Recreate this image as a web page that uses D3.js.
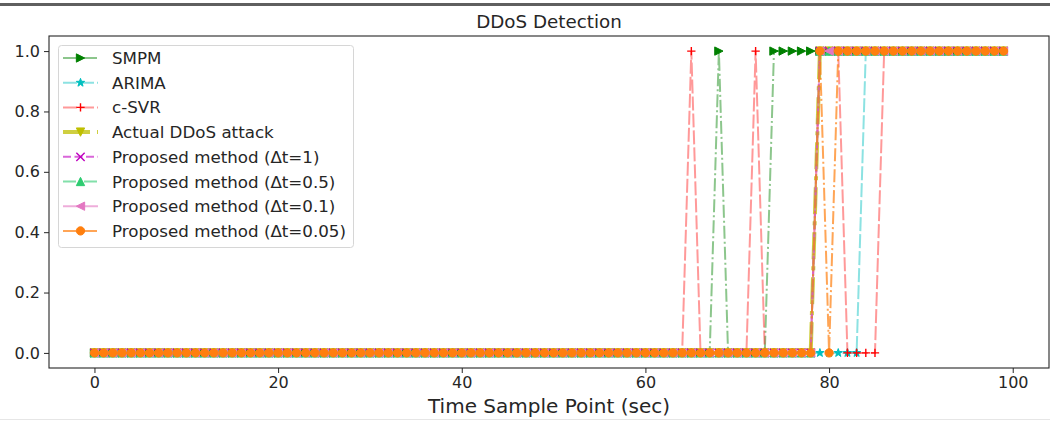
<!DOCTYPE html>
<html>
<head>
<meta charset="utf-8">
<script src="https://cdn.jsdelivr.net/npm/d3@7"></script>
<style>
  body { margin: 0; background: #fff; }
  svg { display: block; font-family: "DejaVu Sans", sans-serif; }
</style>
</head>
<body>
<div id="chart"></div>
<script>
// time sample points 0..99
var samples = [
  0,1,2,3,4,5,6,7,8,9,10,11,12,13,14,15,16,17,18,19,
  20,21,22,23,24,25,26,27,28,29,30,31,32,33,34,35,36,37,38,39,
  40,41,42,43,44,45,46,47,48,49,50,51,52,53,54,55,56,57,58,59,
  60,61,62,63,64,65,66,67,68,69,70,71,72,73,74,75,76,77,78,79,
  80,81,82,83,84,85,86,87,88,89,90,91,92,93,94,95,96,97,98,99
]

var smpm = [
  0,0,0,0,0,0,0,0,0,0,0,0,0,0,0,0,0,0,0,0,
  0,0,0,0,0,0,0,0,0,0,0,0,0,0,0,0,0,0,0,0,
  0,0,0,0,0,0,0,0,0,0,0,0,0,0,0,0,0,0,0,0,
  0,0,0,0,0,0,0,0,1,0,0,0,0,0,1,1,1,1,1,1,
  1,1,1,1,1,1,1,1,1,1,1,1,1,1,1,1,1,1,1,1
]
var arima = [
  0,0,0,0,0,0,0,0,0,0,0,0,0,0,0,0,0,0,0,0,
  0,0,0,0,0,0,0,0,0,0,0,0,0,0,0,0,0,0,0,0,
  0,0,0,0,0,0,0,0,0,0,0,0,0,0,0,0,0,0,0,0,
  0,0,0,0,0,0,0,0,0,0,0,0,0,0,0,0,0,0,0,0,
  0,0,0,0,1,1,1,1,1,1,1,1,1,1,1,1,1,1,1,1
]
var csvr = [
  0,0,0,0,0,0,0,0,0,0,0,0,0,0,0,0,0,0,0,0,
  0,0,0,0,0,0,0,0,0,0,0,0,0,0,0,0,0,0,0,0,
  0,0,0,0,0,0,0,0,0,0,0,0,0,0,0,0,0,0,0,0,
  0,0,0,0,0,1,0,0,0,0,0,0,1,0,0,0,0,0,0,1,
  1,1,0,0,0,0,1,1,1,1,1,1,1,1,1,1,1,1,1,1
]
var actual = [
  0,0,0,0,0,0,0,0,0,0,0,0,0,0,0,0,0,0,0,0,
  0,0,0,0,0,0,0,0,0,0,0,0,0,0,0,0,0,0,0,0,
  0,0,0,0,0,0,0,0,0,0,0,0,0,0,0,0,0,0,0,0,
  0,0,0,0,0,0,0,0,0,0,0,0,0,0,0,0,0,0,0,1,
  1,1,1,1,1,1,1,1,1,1,1,1,1,1,1,1,1,1,1,1
]
var proposed1 = [
  0,0,0,0,0,0,0,0,0,0,0,0,0,0,0,0,0,0,0,0,
  0,0,0,0,0,0,0,0,0,0,0,0,0,0,0,0,0,0,0,0,
  0,0,0,0,0,0,0,0,0,0,0,0,0,0,0,0,0,0,0,0,
  0,0,0,0,0,0,0,0,0,0,0,0,0,0,0,0,0,0,0,1,
  1,1,1,1,1,1,1,1,1,1,1,1,1,1,1,1,1,1,1,1
]
var proposed05 = [
  0,0,0,0,0,0,0,0,0,0,0,0,0,0,0,0,0,0,0,0,
  0,0,0,0,0,0,0,0,0,0,0,0,0,0,0,0,0,0,0,0,
  0,0,0,0,0,0,0,0,0,0,0,0,0,0,0,0,0,0,0,0,
  0,0,0,0,0,0,0,0,0,0,0,0,0,0,0,0,0,0,0,1,
  1,1,1,1,1,1,1,1,1,1,1,1,1,1,1,1,1,1,1,1
]
var proposed01 = [
  0,0,0,0,0,0,0,0,0,0,0,0,0,0,0,0,0,0,0,0,
  0,0,0,0,0,0,0,0,0,0,0,0,0,0,0,0,0,0,0,0,
  0,0,0,0,0,0,0,0,0,0,0,0,0,0,0,0,0,0,0,0,
  0,0,0,0,0,0,0,0,0,0,0,0,0,0,0,0,0,0,0,1,
  1,1,1,1,1,1,1,1,1,1,1,1,1,1,1,1,1,1,1,1
]
var proposed005 = [
  0,0,0,0,0,0,0,0,0,0,0,0,0,0,0,0,0,0,0,0,
  0,0,0,0,0,0,0,0,0,0,0,0,0,0,0,0,0,0,0,0,
  0,0,0,0,0,0,0,0,0,0,0,0,0,0,0,0,0,0,0,0,
  0,0,0,0,0,0,0,0,0,0,0,0,0,0,0,0,0,0,0,1,
  0,1,1,1,1,1,1,1,1,1,1,1,1,1,1,1,1,1,1,1
]

var xTicks = [0, 20, 40, 60, 80, 100]
var yTicks = [0.0, 0.2, 0.4, 0.6, 0.8, 1.0]

// series table built from the arrays above (drawing order = legend order)
var series = [
  {name: "SMPM", values: smpm, color: "#008000", marker: "right", dash: "13,3,2,3", lw: 2, alpha: 0.45},
  {name: "ARIMA", values: arima, color: "#00bfbf", marker: "star", dash: "14,3", lw: 2, alpha: 0.45},
  {name: "c-SVR", values: csvr, color: "#ff0000", marker: "plus", dash: "14,3", lw: 2, alpha: 0.4},
  {name: "Actual DDoS attack", values: actual, color: "#bfbf00", marker: "down", dash: "27,7,4,7", lw: 4, alpha: 0.75},
  {name: "Proposed method (\u0394t=1)", values: proposed1, color: "#bf00bf", marker: "x", dash: "8,3.5", lw: 2, alpha: 0.6},
  {name: "Proposed method (\u0394t=0.5)", values: proposed05, color: "#2ecc71", marker: "up", dash: "13,3,2,3", lw: 2, alpha: 0.6},
  {name: "Proposed method (\u0394t=0.1)", values: proposed01, color: "#e377c2", marker: "left", dash: null, lw: 2, alpha: 0.6},
  {name: "Proposed method (\u0394t=0.05)", values: proposed005, color: "#ff7f0e", marker: "circle", dash: "13,3,2,3", lw: 2, alpha: 0.7}
]

var width = 1050, height = 421
var dimensions = {left: 49, right: 1049, top: 36, bottom: 368}
var msize = 8.3

var svg = d3.select("#chart").append("svg")
  .attr("width", width)
  .attr("height", height)

// frame lines of the screenshot
svg.append("rect").attr("x", 0).attr("y", 3).attr("width", width).attr("height", 3).attr("fill", "#5f5f5f")
svg.append("rect").attr("x", 0).attr("y", 419).attr("width", width).attr("height", 1).attr("fill", "#e6e6e6")

var xScale = d3.scaleLinear()
  .domain([-4.95, 103.95])
  .range([dimensions.left, dimensions.right])

var yScale = d3.scaleLinear()
  .domain([-0.05, 1.05])
  .range([dimensions.bottom, dimensions.top])

function markerPath(type, s) {
  var r = s / 2
  if (type == "up") return `M0,${-r}L${-r},${r}L${r},${r}Z`
  if (type == "down") return `M0,${r}L${-r},${-r}L${r},${-r}Z`
  if (type == "right") return `M${r},0L${-r},${-r}L${-r},${r}Z`
  if (type == "left") return `M${-r},0L${r},${-r}L${r},${r}Z`
  if (type == "plus") return `M${-r},0H${r}M0,${-r}V${r}`
  if (type == "x") return `M${-r},${-r}L${r},${r}M${-r},${r}L${r},${-r}`
  if (type == "circle") return d3.arc()({innerRadius: 0, outerRadius: r, startAngle: 0, endAngle: 2 * Math.PI})
  if (type == "star") {
    var pts = []
    for (var i = 0; i < 10; i++) {
      var rad = i % 2 == 0 ? r * 1.05 : r * 0.42
      var a = Math.PI * i / 5
      pts.push([rad * Math.sin(a), -rad * Math.cos(a)])
    }
    return "M" + pts.join("L") + "Z"
  }
}

function drawMarker(g, s, x, y) {
  var open = s.marker == "plus" || s.marker == "x"
  g.append("path")
    .attr("d", markerPath(s.marker, msize))
    .attr("transform", `translate(${x},${y})`)
    .attr("fill", open ? "none" : s.color)
    .attr("stroke", s.color)
    .attr("stroke-width", open ? 1.4 : 1)
}

var plot = svg.append("g")

var lineGenerator = d3.line()
  .x(d => xScale(d[0]))
  .y(d => yScale(d[1]))

series.forEach(function(s) {
  var pts = samples.map((t, i) => [t, s.values[i]])
  var g = plot.append("g")
  g.append("path")
    .attr("d", lineGenerator(pts))
    .attr("fill", "none")
    .attr("stroke", s.color)
    .attr("stroke-width", s.lw)
    .attr("stroke-opacity", s.alpha)
    .attr("stroke-dasharray", s.dash)
  pts.forEach(p => drawMarker(g, s, xScale(p[0]), yScale(p[1])))
})

// axes
var xAxis = svg.append("g")
  .attr("transform", `translate(0,${dimensions.bottom})`)
  .call(d3.axisBottom(xScale).tickValues(xTicks).tickSize(5).tickPadding(4).tickFormat(d3.format("d")))
var yAxis = svg.append("g")
  .attr("transform", `translate(${dimensions.left},0)`)
  .call(d3.axisLeft(yScale).tickValues(yTicks).tickSize(5).tickPadding(4).tickFormat(d3.format(".1f")))

svg.selectAll(".domain").remove()
svg.selectAll(".tick text").attr("font-size", 16).attr("font-family", "DejaVu Sans").attr("fill", "#262626")
svg.selectAll(".tick line").attr("stroke", "#262626").attr("stroke-width", 1)

svg.append("rect")
  .attr("x", dimensions.left)
  .attr("y", dimensions.top)
  .attr("width", dimensions.right - dimensions.left)
  .attr("height", dimensions.bottom - dimensions.top)
  .attr("fill", "none")
  .attr("stroke", "#262626")
  .attr("stroke-width", 1.1)

svg.append("text")
  .attr("x", (dimensions.left + dimensions.right) / 2)
  .attr("y", 27.5)
  .attr("text-anchor", "middle")
  .attr("font-size", 18.3)
  .attr("fill", "#262626")
  .text("DDoS Detection")

svg.append("text")
  .attr("x", (dimensions.left + dimensions.right) / 2)
  .attr("y", 413)
  .attr("text-anchor", "middle")
  .attr("font-size", 20)
  .attr("fill", "#262626")
  .text("Time Sample Point (sec)")

// legend
var legend = svg.append("g")
legend.append("rect")
  .attr("x", 58.5).attr("y", 45.5)
  .attr("width", 295).attr("height", 202)
  .attr("rx", 3)
  .attr("fill", "#fff").attr("fill-opacity", 0.8)
  .attr("stroke", "#d6d6d6")

series.forEach(function(s, i) {
  var y = 58 + i * 24.7
  var item = legend.append("g")
  item.append("line")
    .attr("x1", 63).attr("x2", 98)
    .attr("y1", y).attr("y2", y)
    .attr("stroke", s.color)
    .attr("stroke-width", s.lw)
    .attr("stroke-opacity", s.alpha)
    .attr("stroke-dasharray", s.dash)
  drawMarker(item, s, 80.5, y)
  item.append("text")
    .attr("x", 112)
    .attr("y", y + 6)
    .attr("font-size", 16.7)
    .attr("fill", "#262626")
    .text(s.name)
})
</script>
</body>
</html>
